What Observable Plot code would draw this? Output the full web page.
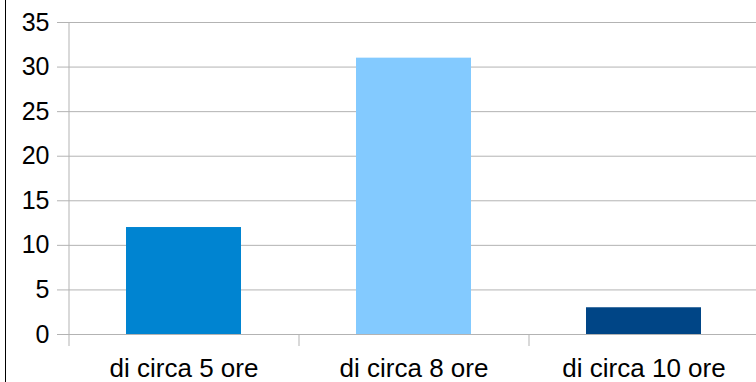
<!DOCTYPE html>
<html>
<head>
<meta charset="utf-8">
<script src="https://cdn.jsdelivr.net/npm/d3@7"></script>
<script src="https://cdn.jsdelivr.net/npm/@observablehq/plot@0.6"></script>
<style>
  html, body { margin: 0; padding: 0; background: #fff; }
  #chart { position: relative; width: 756px; height: 382px; overflow: hidden; }
  #chart .edge { position: absolute; left: 5px; top: 0; width: 1px; height: 382px; background: #000; }
  #chart svg { display: block; }
</style>
</head>
<body>
<div id="chart"><div class="edge"></div></div>
<script>
// Duration categories and their counts
const categories = ["di circa 5 ore", "di circa 8 ore", "di circa 10 ore"];
const counts = [12, 31, 3];
const colors = ["#0084d1", "#83caff", "#004586"];
const yTicks = [0, 5, 10, 15, 20, 25, 30, 35];

const data = categories.map((c, i) => ({category: c, count: counts[i], color: colors[i]}));

const width = 756, height = 382;
const marginLeft = 68, marginRight = -2, marginTop = 22, marginBottom = 48;
// half a category step: shifts the boundary ticks from band centres to band edges
const halfStep = (width - marginLeft - marginRight) / categories.length / 2;

const chart = Plot.plot({
  width, height, marginLeft, marginRight, marginTop, marginBottom,
  style: {fontFamily: "'Liberation Sans', Arial, sans-serif", background: "transparent"},
  x: {domain: categories, paddingInner: 0.5, paddingOuter: 0.25, label: null},
  y: {domain: [0, 35], label: null},
  marks: [
    Plot.gridY(yTicks, {stroke: "#b3b3b3", strokeOpacity: 1}),
    Plot.axisY(yTicks, {tickSize: 11, tickPadding: 8, stroke: "#b3b3b3", fontSize: 25, fill: "#000", label: null}),
    Plot.ruleX(categories.slice(0, 1), {dx: -halfStep, y1: 0, y2: 35, stroke: "#b3b3b3"}),
    Plot.axisX({tickSize: 12, tickPadding: 0, dx: -halfStep, stroke: "#b3b3b3", text: null, label: null}),
    Plot.axisX({tickSize: 0, tickPadding: 24, fontSize: 26, fill: "#000", label: null}),
    Plot.barY(data, {x: "category", y: "count", fill: "color"})
  ]
});
document.getElementById("chart").appendChild(chart);
</script>
</body>
</html>
